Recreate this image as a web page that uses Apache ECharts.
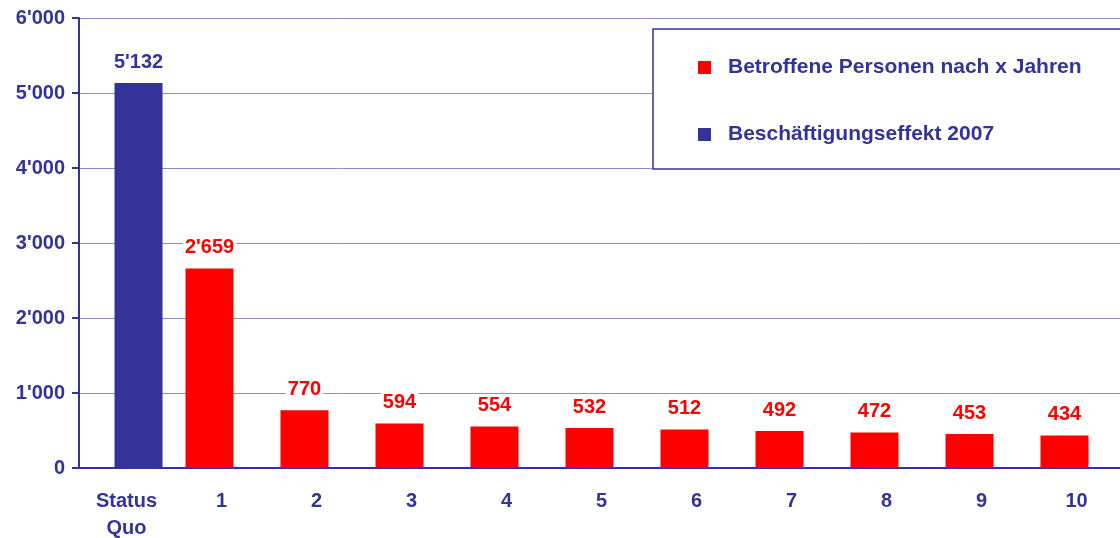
<!DOCTYPE html>
<html>
<head>
<meta charset="utf-8">
<script src="https://cdn.jsdelivr.net/npm/echarts@6/dist/echarts.min.js"></script>
<style>
  html, body { margin: 0; padding: 0; background: #fff; }
  #chart { width: 1120px; height: 538px; }
</style>
</head>
<body>
<div id="chart"></div>
<script>
// categories and values
var categories = ['Status\nQuo', '1', '2', '3', '4', '5', '6', '7', '8', '9', '10'];
var betroffene = ['-', 2659, 770, 594, 554, 532, 512, 492, 472, 453, 434];
var effekt2007 = [5132, '-', '-', '-', '-', '-', '-', '-', '-', '-', '-'];
var seriesNames = ['Betroffene Personen nach x Jahren', 'Beschäftigungseffekt 2007'];

var BLUE = '#333399';
var RED = '#ff0000';
var FONT = '"Liberation Sans", Arial, sans-serif';

function fmt(v) {
  return String(v).replace(/\B(?=(\d{3})+(?!\d))/g, "'");
}

function barLabel(color) {
  return {
    show: true,
    position: 'top',
    distance: 11,
    color: color,
    fontSize: 20,
    fontWeight: 'bold',
    fontFamily: FONT,
    backgroundColor: '#fff',
    padding: [0, 2],
    formatter: function (p) { return fmt(p.value); }
  };
}

var chart = echarts.init(document.getElementById('chart'));
chart.setOption({
  animation: false,
  textStyle: { fontFamily: FONT },
  grid: { left: 79, right: -4, top: 18, bottom: 70, outerBoundsMode: 'none' },
  legend: {
    orient: 'vertical',
    left: 653,
    top: 29,
    padding: [28, 80, 24, 45],
    itemGap: 46,
    itemWidth: 13,
    itemHeight: 13,
    icon: 'rect',
    selectedMode: false,
    backgroundColor: '#fff',
    borderColor: BLUE,
    borderWidth: 1.5,
    borderRadius: 0,
    textStyle: { color: BLUE, fontSize: 21, fontWeight: 'bold', fontFamily: FONT, padding: [0, 0, 0, 12] },
    data: seriesNames
  },
  xAxis: {
    type: 'category',
    data: categories,
    axisLine: { lineStyle: { color: BLUE, width: 2 } },
    axisTick: { length: 6, lineStyle: { color: BLUE, width: 2 } },
    axisLabel: { color: BLUE, fontSize: 20, fontWeight: 'bold', margin: 20, lineHeight: 27, fontFamily: FONT }
  },
  yAxis: {
    type: 'value',
    min: 0,
    max: 6000,
    interval: 1000,
    axisLine: { show: true, lineStyle: { color: BLUE, width: 2 } },
    axisTick: { show: true, length: 7, lineStyle: { color: BLUE, width: 2 } },
    axisLabel: { color: BLUE, fontSize: 20, fontWeight: 'bold', margin: 14, formatter: fmt, fontFamily: FONT },
    splitLine: { lineStyle: { color: '#8c8cc6', width: 1 } }
  },
  series: [
    {
      name: seriesNames[0],
      type: 'bar',
      data: betroffene,
      barWidth: 48,
      barGap: '-50%',
      itemStyle: { color: RED },
      label: barLabel(RED)
    },
    {
      name: seriesNames[1],
      type: 'bar',
      data: effekt2007,
      barWidth: 48,
      barGap: '-50%',
      itemStyle: { color: BLUE },
      label: barLabel(BLUE)
    }
  ]
});
</script>
</body>
</html>
